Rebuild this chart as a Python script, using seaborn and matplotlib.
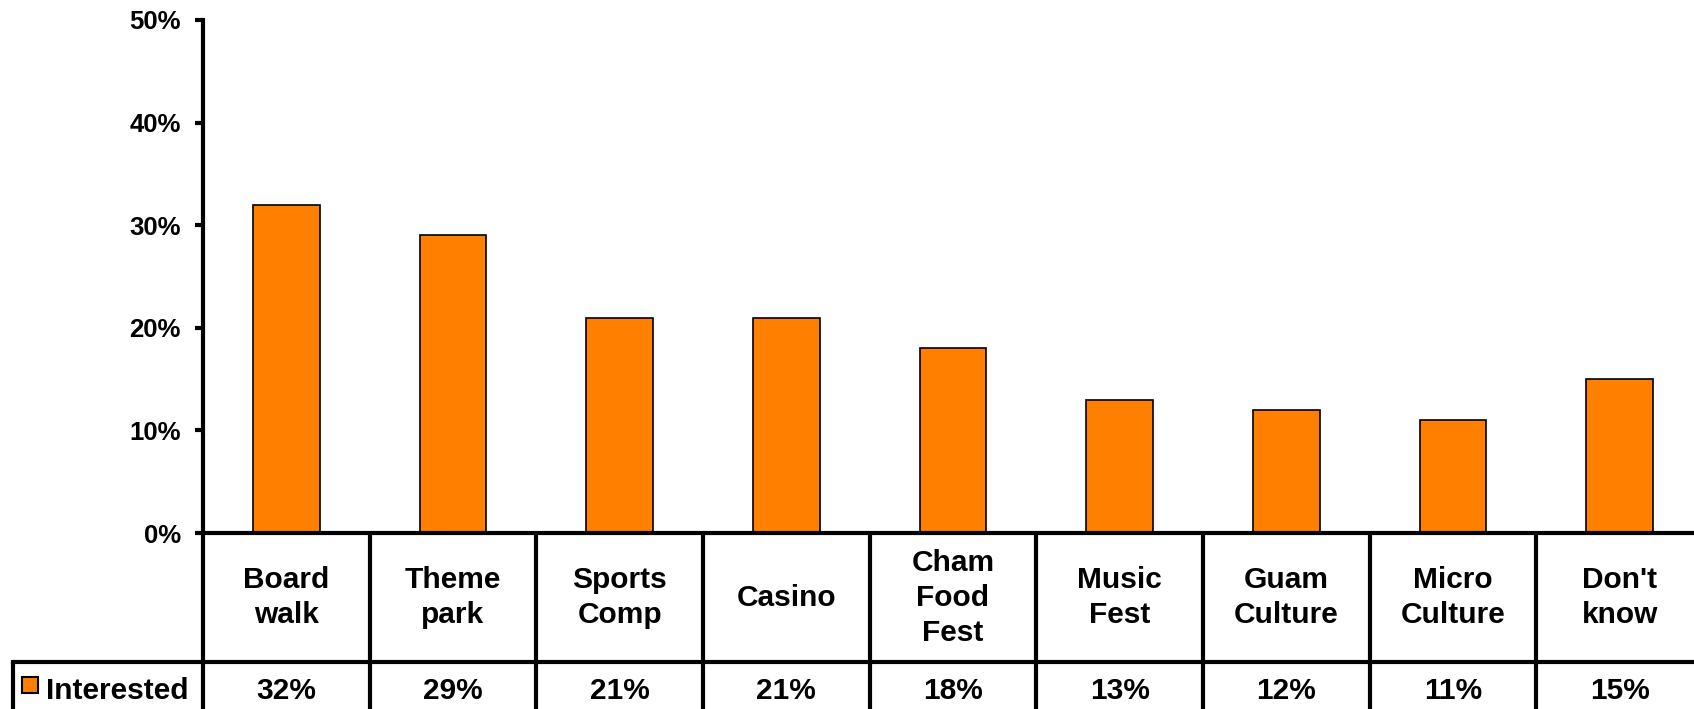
import matplotlib
matplotlib.use("Agg")
import matplotlib.pyplot as plt
import matplotlib.transforms as mtransforms
from matplotlib.patches import Rectangle
import seaborn as sns
import pandas as pd

categories = ["Board\nwalk", "Theme\npark", "Sports\nComp", "Casino", "Cham\nFood\nFest",
              "Music\nFest", "Guam\nCulture", "Micro\nCulture", "Don't\nknow"]
values = [0.32, 0.29, 0.21, 0.21, 0.18, 0.13, 0.12, 0.11, 0.15]
value_labels = ["32%", "29%", "21%", "21%", "18%", "13%", "12%", "11%", "15%"]
series_name = "Interested"
yticks = [0.0, 0.1, 0.2, 0.3, 0.4, 0.5]
ytick_labels = ["0%", "10%", "20%", "30%", "40%", "50%"]

ORANGE = "#FF8000"

sns.set_theme(style="white")
plt.rcParams["font.family"] = ["Liberation Sans", "DejaVu Sans"]
plt.rcParams["font.weight"] = "bold"
plt.rcParams["text.color"] = "black"
plt.rcParams["ytick.color"] = "black"
plt.rcParams["ytick.labelcolor"] = "black"

fig = plt.figure(figsize=(16.94, 7.09), dpi=100)
ax = fig.add_axes([0.1198, 0.2482, 0.8855, 0.7236])

df = pd.DataFrame({"cat": categories, "val": values})
sns.barplot(data=df, x="cat", y="val", color=ORANGE, width=0.4, saturation=1,
            edgecolor="black", linewidth=1.2, ax=ax)

ax.set_xlim(-0.5, len(categories) - 0.5)
ax.set_ylim(0, 0.5)
ax.set_yticks(yticks)
ax.set_yticklabels(ytick_labels, fontsize=18.5, fontweight="bold", color="black")
ax.set_xticks([])
ax.set_xlabel("")
ax.set_ylabel("")
for s in ["top", "right"]:
    ax.spines[s].set_visible(False)
for s in ["left", "bottom"]:
    ax.spines[s].set_linewidth(3)
    ax.spines[s].set_color("black")
ax.tick_params(axis="y", left=True, length=6, width=3, color="black", pad=10)
ax.tick_params(axis="x", bottom=False)

# Data table below the axis
blend = mtransforms.blended_transform_factory(ax.transData, ax.transAxes)
row1 = -0.2515
row2 = -0.40
lw = 3
for i in range(len(categories) + 1):
    x = i - 0.5
    ax.plot([x, x], [0, row2], transform=blend, color="black", lw=lw, clip_on=False,
            solid_capstyle="butt")
leg_left = -0.1267
ax.plot([leg_left, 1.0], [row1, row1], transform=ax.transAxes, color="black", lw=lw,
        clip_on=False, solid_capstyle="projecting")
ax.plot([leg_left, leg_left], [row1, row2], transform=ax.transAxes, color="black", lw=lw,
        clip_on=False)

for i, (c, v) in enumerate(zip(categories, value_labels)):
    ax.text(i, row1 / 2, c, transform=blend, ha="center", va="center", fontsize=21.5,
            fontweight="bold", linespacing=1.32, color="black")
    ax.text(i, -0.308, v, transform=blend, ha="center", va="center", fontsize=21.5,
            fontweight="bold", color="black")

ax.add_patch(Rectangle((-0.1207, -0.312), 0.0107, 0.031, transform=ax.transAxes,
                       facecolor=ORANGE, edgecolor="black", lw=1.5, clip_on=False))
ax.text(-0.1043, -0.308, series_name, transform=ax.transAxes, ha="left", va="center",
        fontsize=21.5, fontweight="bold", color="black")

fig.savefig("out.png", dpi=100)
